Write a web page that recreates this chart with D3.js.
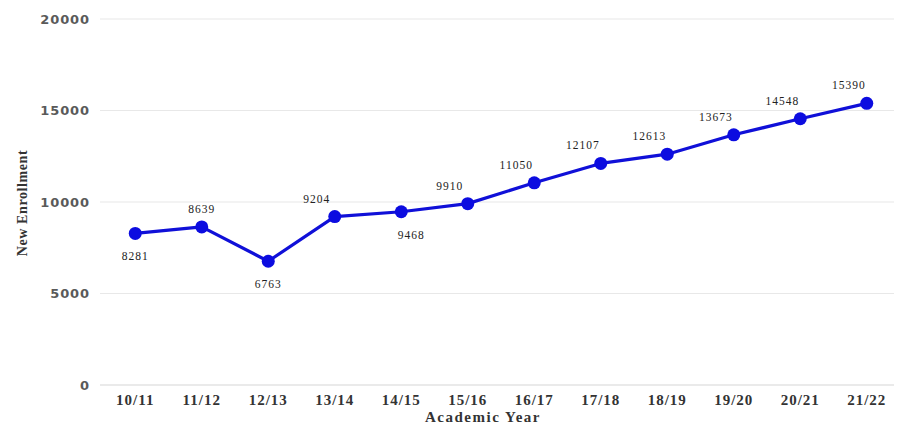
<!DOCTYPE html>
<html>
<head>
<meta charset="utf-8">
<script src="https://cdn.jsdelivr.net/npm/d3@7"></script>
<style>
  html, body { margin: 0; padding: 0; background: #fff; }
  svg { display: block; }
</style>
</head>
<body>
<svg id="chart" width="900" height="427"></svg>
<script>
// New enrollment per academic year
const years = ["10/11", "11/12", "12/13", "13/14", "14/15", "15/16", "16/17", "17/18", "18/19", "19/20", "20/21", "21/22"];
const enrollment = [8281, 8639, 6763, 9204, 9468, 9910, 11050, 12107, 12613, 13673, 14548, 15390];
const yTicks = [0, 5000, 10000, 15000, 20000];
// where each value label sits relative to its point
const labelSide = ["below", "above", "below", "above", "below", "above", "above", "above", "above", "above", "above", "above"];

const svg = d3.select("#chart");
const margin = { left: 102, right: 0, top: 19, bottom: 42 };
const W = 900, H = 427;
const serif = "'Liberation Serif', 'Times New Roman', serif";

const x = d3.scaleBand().domain(years).range([margin.left, W - margin.right]);
const y = d3.scaleLinear().domain([0, 20000]).range([H - margin.bottom, margin.top]);

// horizontal gridlines
svg.append("g")
  .selectAll("line")
  .data(yTicks)
  .join("line")
  .attr("x1", margin.left - 2)
  .attr("x2", W - 6)
  .attr("y1", d => y(d))
  .attr("y2", d => y(d))
  .attr("stroke", d => d === 0 ? "#d6d6d6" : "#e8e8e8")
  .attr("stroke-width", 1.2);

// y axis labels
const yAxis = svg.append("g")
  .attr("transform", `translate(${margin.left - 12},0)`)
  .call(d3.axisLeft(y).tickValues(yTicks).tickFormat(d3.format("d")).tickSize(0).tickPadding(0));
yAxis.select(".domain").remove();
yAxis.selectAll("text")
  .attr("font-family", "'DejaVu Sans', Verdana, sans-serif")
  .attr("font-weight", "bold")
  .attr("font-size", 13)
  .attr("letter-spacing", 0.9)
  .attr("fill", "#5a5a5a");

// x axis labels
const xAxis = svg.append("g")
  .attr("transform", `translate(0,${H - margin.bottom})`)
  .call(d3.axisBottom(x).tickSize(0).tickPadding(9));
xAxis.select(".domain").remove();
xAxis.selectAll("text")
  .attr("font-family", serif)
  .attr("font-weight", "bold")
  .attr("font-size", 15)
  .attr("letter-spacing", 1)
  .attr("fill", "#333");

// axis titles
svg.append("text")
  .attr("x", 483)
  .attr("y", 422)
  .attr("text-anchor", "middle")
  .attr("font-family", serif)
  .attr("font-weight", "bold")
  .attr("font-size", 15)
  .attr("letter-spacing", 1.5)
  .attr("fill", "#333")
  .text("Academic Year");

svg.append("text")
  .attr("transform", `translate(27,${y(10000) + 1}) rotate(-90)`)
  .attr("text-anchor", "middle")
  .attr("font-family", serif)
  .attr("font-weight", "bold")
  .attr("font-size", 14)
  .attr("letter-spacing", 0.6)
  .attr("fill", "#333")
  .text("New Enrollment");

const cx = (d, i) => x(years[i]) + x.bandwidth() / 2;

// series line
const line = d3.line()
  .x((d, i) => cx(d, i))
  .y(d => y(d));

svg.append("path")
  .datum(enrollment)
  .attr("d", line)
  .attr("fill", "none")
  .attr("stroke", "#1010d8")
  .attr("stroke-width", 3.2)
  .attr("stroke-linejoin", "round");

// markers
svg.append("g")
  .selectAll("circle")
  .data(enrollment)
  .join("circle")
  .attr("cx", cx)
  .attr("cy", d => y(d))
  .attr("r", 6.5)
  .attr("fill", "#0c0ce0");

// value labels
svg.append("g")
  .selectAll("text")
  .data(enrollment)
  .join("text")
  .attr("x", (d, i) => {
    if (labelSide[i] === "below") return cx(d, i) + (i === 4 ? 10 : 0);
    return cx(d, i) + (i < 2 ? 0 : -18);
  })
  .attr("y", (d, i) => y(d) + (labelSide[i] === "below" ? 27 : -14))
  .attr("text-anchor", "middle")
  .attr("font-family", serif)
  .attr("font-size", 11.5)
  .attr("letter-spacing", 1)
  .attr("fill", "#222")
  .text(d => d);
</script>
</body>
</html>
